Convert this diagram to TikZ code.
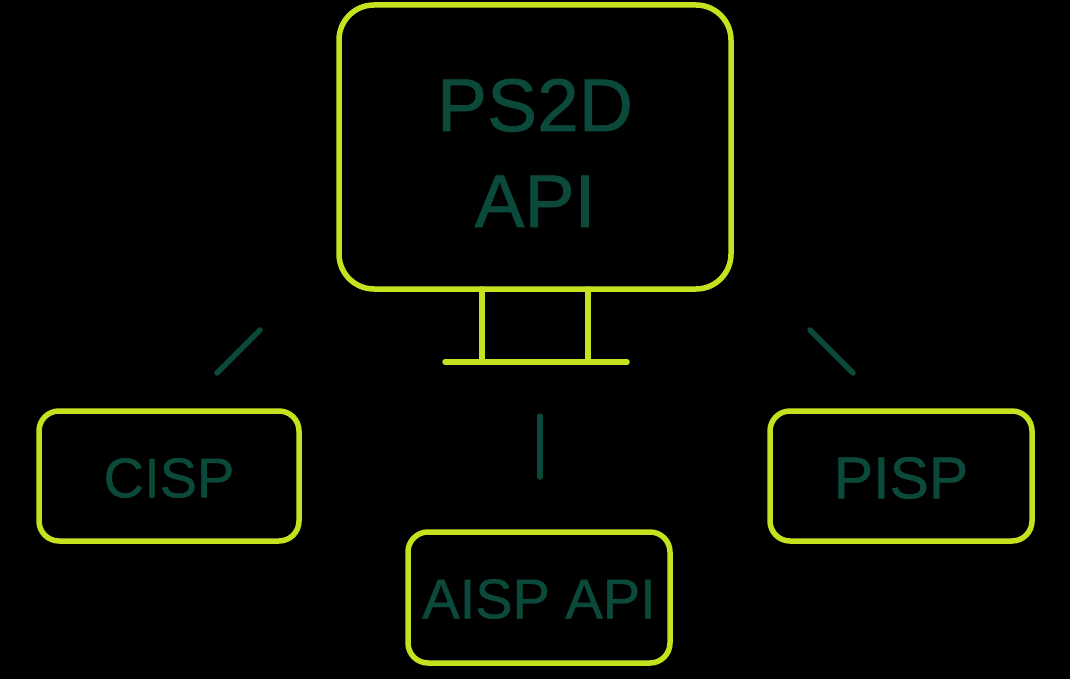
\documentclass[tikz,border=0pt]{standalone}
\usepackage{fontspec}
\setmainfont{Liberation Sans}
\newfontfamily\medfont{Liberation Sans}[FakeBold=0.8]
\definecolor{lime}{HTML}{C6E11E}
\definecolor{deepgreen}{HTML}{0B4A3A}
\begin{document}
\begin{tikzpicture}[x=1pt,y=-1pt,
  framebox/.style={draw=lime, line width=5.5pt, rounded corners=#1, inner sep=0pt},
  framebox/.default=20pt,
  lbl/.style={text=deepgreen, inner sep=0pt, align=center},
  stand/.style={draw=lime, line width=5.5pt, line cap=round},
  link/.style={draw=deepgreen, line width=5.5pt, line cap=round}]
\fill[black] (0,0) rectangle (1070,679);
\useasboundingbox (0,0) rectangle (1070,679);
% monitor
\node[framebox=35pt, minimum width=392pt, minimum height=284pt] (mon) at (535,147) {};
\node[lbl, font=\medfont\fontsize{75}{96}\selectfont] (monlabel) at (535,153) {PS2D\\API};
\coordinate (sl1) at (482,289);
\coordinate (sl2) at (482,362);
\coordinate (sr1) at (588,289);
\coordinate (sr2) at (588,362);
\coordinate (bl) at (445,362);
\coordinate (br) at (627,362);
\draw[stand] (sl1) -- (sl2);
\draw[stand] (sr1) -- (sr2);
\draw[stand] (bl) -- (br);
% boxes
\node[framebox, minimum width=260pt, minimum height=130pt] (cisp) at (169,476) {};
\node[lbl, font=\medfont\fontsize{56}{60}\selectfont] (cispl) at (169,478) {CISP};
\node[framebox, minimum width=262pt, minimum height=130pt] (pisp) at (901,476) {};
\node[lbl, font=\medfont\fontsize{59}{62}\selectfont] (pispl) at (901,478) {PISP};
\node[framebox, minimum width=262pt, minimum height=131pt] (aisp) at (539,597.5) {};
\node[lbl, font=\medfont\fontsize{56}{60}\selectfont] (aispl) at (539,599) {AISP API};
% links
\coordinate (c1) at (260,330);
\coordinate (c2) at (217,373);
\coordinate (m1) at (540,416);
\coordinate (m2) at (540,477);
\coordinate (p1) at (810,330);
\coordinate (p2) at (853,373);
\draw[link] (c1) -- (c2);
\draw[link] (m1) -- (m2);
\draw[link] (p1) -- (p2);
\end{tikzpicture}
\end{document}
